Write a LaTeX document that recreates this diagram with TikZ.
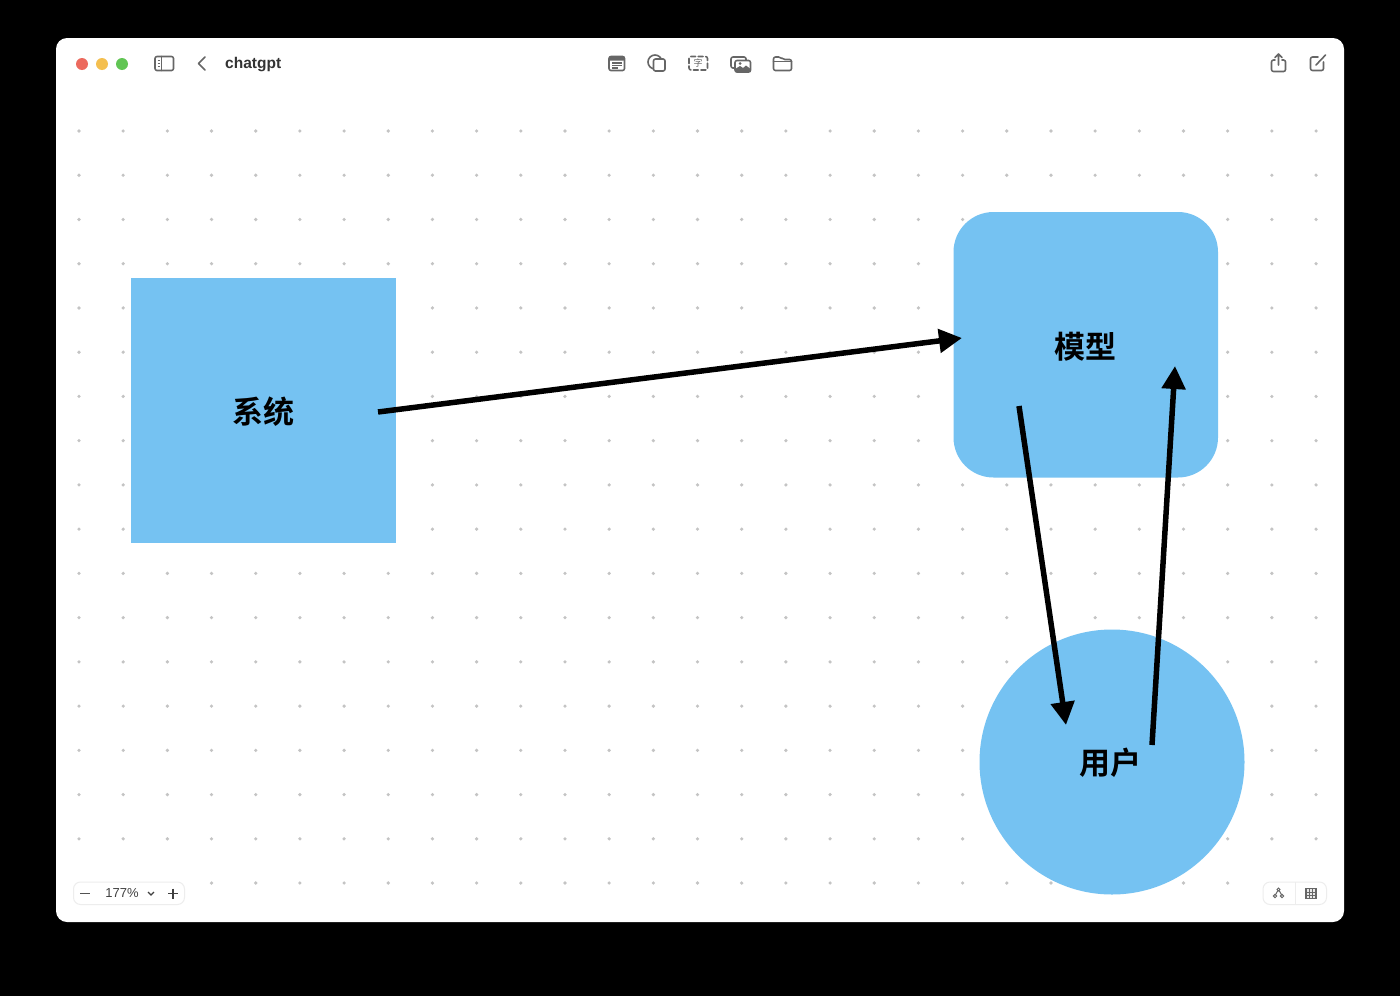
\documentclass[tikz,border=0pt]{standalone}
\usepackage{fontspec}
\setmainfont{Liberation Sans}
\newfontfamily\cjk{Noto Sans CJK SC}
\newfontfamily\cjkbold{Noto Sans CJK SC Bold}
\usetikzlibrary{arrows.meta}
\definecolor{blueshape}{HTML}{75C2F2}
\definecolor{icon}{HTML}{666666}
\definecolor{griddot}{HTML}{C4C4C4}
\definecolor{pill}{HTML}{EDEDED}
\definecolor{lightred}{HTML}{EC6A5E}
\definecolor{lightyellow}{HTML}{F4BF4F}
\definecolor{lightgreen}{HTML}{61C554}
\tikzset{
  x=1pt,y=-1pt,
  shape label/.style={font=\cjkbold\fontsize{31}{31}\selectfont,text=black},
  shapebox/.style={fill=blueshape,draw=none,inner sep=0pt,outer sep=0pt},
  flow/.style={draw=black,line width=5.5pt,-{Triangle[length=23pt,width=23pt]},shorten >=0pt},
  ic/.style={draw=icon,line width=1.6pt,line join=round,line cap=round},
}
\begin{document}
\begin{tikzpicture}
\useasboundingbox (0,0) rectangle (1400,996);
\fill[black] (0,0) rectangle (1400,996);
\fill[white,rounded corners=11pt] (56,38) rectangle (1344,922);
% dot grid
\foreach \r in {0,...,16}{\foreach \c in {0,...,28}{
  \fill[griddot] ({79+44.18*\c},{131+44.24*\r}) circle (1.8pt);}}
\foreach \c in {3,...,26}{
  \fill[griddot] ({79+44.18*\c},883) circle (1.8pt);}
% shapes
\node[shapebox,minimum width=265.5pt,minimum height=265.5pt] (sys) at (263.5,410.25) {};
\fill[blueshape,rounded corners=40pt] (953.5,212) rectangle (1218,477.5);
\coordinate (modelc) at (1085.75,344.75);
\node[shapebox,circle,minimum size=265pt] (user) at (1112,762) {};
\node[shape label] (syslabel) at (263.5,411.5) {系统};
\node[shape label] (modellabel) at (1085,346.5) {模型};
\node[shape label] (userlabel) at (1110.5,762.5) {用户};
% connectors
\coordinate (a1) at (378,412); \coordinate (a2) at (962,338);
\coordinate (b1) at (1019,406); \coordinate (b2) at (1066,725);
\coordinate (c1) at (1152,745); \coordinate (c2) at (1175,366);
\draw[flow] (a1) -- (a2);
\draw[flow] (b1) -- (b2);
\draw[flow] (c1) -- (c2);
% traffic lights
\fill[lightred] (82,64) circle (6pt);
\fill[lightyellow] (102,64) circle (6pt);
\fill[lightgreen] (122,64) circle (6pt);
% sidebar icon
\draw[ic,rounded corners=2pt] (155,56.5) rectangle (173.5,70.5);
\draw[ic] (161.5,56.5) -- (161.5,70.5);
\draw[icon,line width=1pt] (157.5,60.5) -- (159.5,60.5) (157.5,63.5) -- (159.5,63.5) (157.5,66.5) -- (159.5,66.5);
% back
\draw[ic,line width=1.7pt] (205,57) -- (198.5,63.5) -- (205,70);
\node[font=\fontsize{15.5}{16}\selectfont\bfseries,text=black!80,anchor=west,inner sep=0pt] (title) at (225,64.5) {chatgpt};
% toolbar: note
\draw[ic,fill=white,rounded corners=2pt] (609,56.5) rectangle (624.5,70.5);
\fill[icon,rounded corners=1pt] (609,56) rectangle (624.5,60.5);
\draw[icon,line width=1.2pt] (612,63) -- (622,63) (612,65.5) -- (622,65.5) (612,68) -- (618,68);
% shapes icon
\draw[ic] (655,62) circle (7pt);
\draw[ic,fill=white,rounded corners=2pt] (653.5,59) rectangle (665,71);
% text icon
\draw[ic,rounded corners=2pt,dash pattern=on 5pt off 2.5pt] (689,56.5) rectangle (707.5,70);
\node[font=\cjk\fontsize{9}{9}\selectfont,text=icon,inner sep=0pt] (ziicon) at (698,63.5) {字};
% media icon
\draw[ic,rounded corners=2pt] (731,57) rectangle (746,68);
\draw[ic,fill=white,rounded corners=2pt] (735,60.5) rectangle (750.5,72);
\fill[icon] (735,72) -- (735,69) -- (740,66) -- (743,68) -- (746,65.5) -- (750.5,69) -- (750.5,72) -- cycle;
\fill[icon] (740,63.5) circle (1.5pt);
% folder icon
\draw[ic,rounded corners=2pt] (773.5,70.5) -- (773.5,57) -- (780.5,57) -- (783,59.5) -- (791.5,59.5) -- (791.5,70.5) -- cycle;
\draw[ic] (773.5,61.5) -- (791.5,61.5);
% share
\draw[ic,rounded corners=2pt] (1275,60) -- (1271.5,60) -- (1271.5,71.5) -- (1285.5,71.5) -- (1285.5,60) -- (1282,60);
\draw[ic] (1278.5,65) -- (1278.5,54) (1275,57.5) -- (1278.5,54) -- (1282,57.5);
% compose
\draw[ic,rounded corners=2pt] (1318,57) -- (1310.5,57) -- (1310.5,70.5) -- (1323.5,70.5) -- (1323.5,62);
\draw[ic] (1316,65) -- (1325.5,55);
% zoom control
\draw[pill,fill=white,rounded corners=7pt,line width=1pt] (73.5,882) rectangle (184.5,904.5);
\draw[icon!80!black,line width=1.4pt] (80,893.5) -- (90,893.5);
\node[font=\fontsize{13}{14}\selectfont,text=black!75,inner sep=0pt] (zoomtext) at (122,893.5) {177\%};
\draw[black!75,line width=1.3pt] (148,892) -- (151,895) -- (154,892);
\draw[black!75,line width=1.2pt] (168,893.5) -- (178,893.5) (173,888.5) -- (173,898.5);
% view control
\draw[pill,fill=white,rounded corners=7pt,line width=1pt] (1263,882) rectangle (1326.5,904.5);
\draw[pill,line width=1pt] (1295,882) -- (1295,904.5);
\draw[icon,line width=1pt] (1275,895.5) -- (1278.5,889.5) -- (1282,895.5);
\draw[icon,line width=1pt,fill=white] (1275,896) circle (1.7pt) (1282,896) circle (1.7pt) (1278.5,889.5) circle (1.5pt);
\draw[icon,line width=1.3pt,fill=icon!15] (1306,888.5) rectangle (1316,898.5);
\draw[icon,line width=.5pt] (1309.3,888.5) -- (1309.3,898.5) (1312.7,888.5) -- (1312.7,898.5) (1306,891.8) -- (1316,891.8) (1306,895.2) -- (1316,895.2);
\end{tikzpicture}
\end{document}
